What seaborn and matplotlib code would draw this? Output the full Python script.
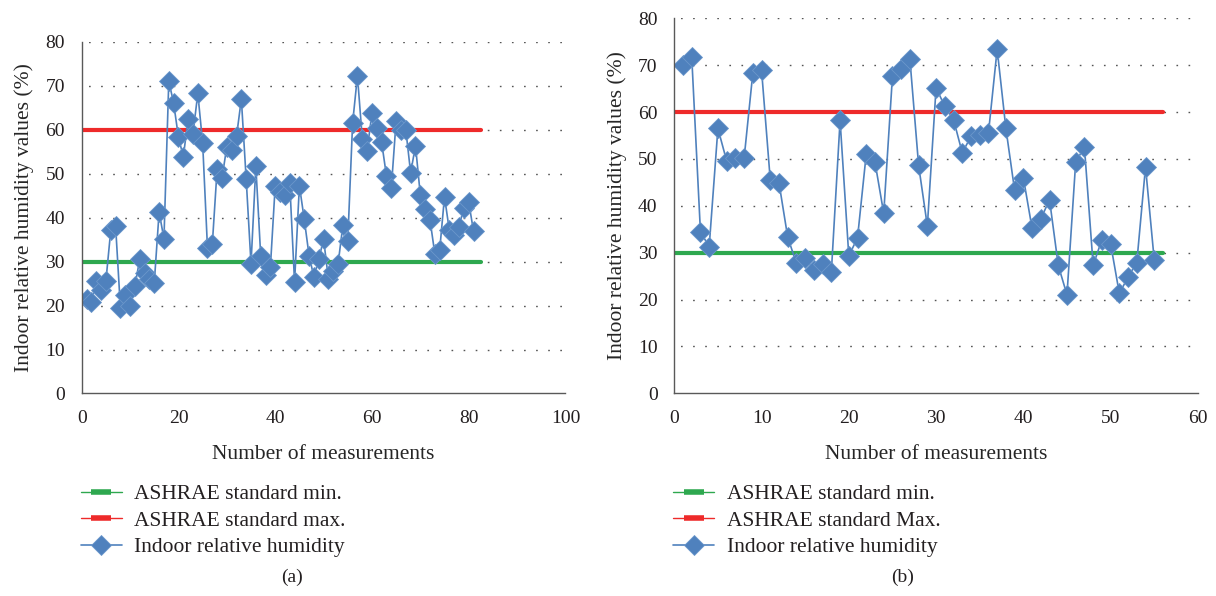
import numpy as np
import pandas as pd
import matplotlib
matplotlib.use("Agg")
import matplotlib.pyplot as plt
from matplotlib.lines import Line2D
import seaborn as sns

# Data (a): 81 measurements
humidity_a = [21.5, 20.8, 25.6, 23.5, 25.6, 37.1, 38.2, 19.5, 22.5, 19.8,
              24.5, 30.6, 27.5, 26.0, 25.2, 41.3, 35.2, 71.1, 66.1, 58.3,
              53.9, 62.4, 59.1, 68.3, 57.0, 33.1, 34.0, 51.2, 49.0, 56.2,
              55.3, 58.5, 67.0, 48.8, 29.5, 51.7, 31.4, 27.0, 28.7, 47.3,
              45.8, 45.2, 48.0, 25.3, 47.3, 39.7, 31.4, 26.5, 30.5, 35.1,
              26.1, 27.8, 29.5, 38.4, 34.8, 61.5, 72.3, 58.0, 55.2, 63.8,
              60.5, 57.2, 49.5, 46.7, 62.1, 60.0, 60.0, 50.2, 56.4, 45.2,
              42.0, 39.5, 31.8, 32.6, 44.8, 37.1, 36.0, 38.0, 42.3, 43.6,
              36.9]

# Data (b): 55 measurements
humidity_b = [70.1, 71.8, 34.4, 31.3, 56.5, 49.6, 50.1, 50.1, 68.3, 69.0,
              45.5, 44.9, 33.3, 27.7, 28.9, 26.3, 27.5, 25.9, 58.2, 29.3,
              33.2, 51.1, 49.3, 38.4, 67.6, 69.1, 71.3, 48.6, 35.7, 65.2,
              61.2, 58.4, 51.3, 54.8, 55.0, 55.5, 73.4, 56.5, 43.3, 46.0,
              35.2, 37.2, 41.3, 27.3, 21.0, 49.4, 52.5, 27.3, 32.8, 31.9,
              21.3, 24.8, 27.9, 48.3, 28.4]

# ASHRAE limits and their x-span on each chart
std_min = 30
std_max = 60
span_a = [0, 82.5]
span_b = [0, 56]

labels_a = ["ASHRAE standard min.", "ASHRAE standard max.", "Indoor relative humidity"]
labels_b = ["ASHRAE standard min.", "ASHRAE standard Max.", "Indoor relative humidity"]

GREEN = "#2EA84F"
RED = "#EE2A2A"
BLUE = "#4F81BD"
AXC = "#595959"

sns.set_style("white")
plt.rcParams["font.family"] = ["Liberation Serif", "DejaVu Serif"]
plt.rcParams["text.color"] = "#231F20"

fig = plt.figure(figsize=(12.16, 5.96), dpi=100)
ax_a = fig.add_axes([0.0672, 0.3398, 0.3978, 0.5898])
ax_b = fig.add_axes([0.5545, 0.3401, 0.4306, 0.6292])


def draw_panel(ax, values, span, xmax, xstep, labels, caption, cap_x):
    df = pd.DataFrame({"n": np.arange(1, len(values) + 1), "rh": values})
    sns.lineplot(x=span, y=[std_min] * 2, ax=ax, color=GREEN, linewidth=3.0)
    sns.lineplot(x=span, y=[std_max] * 2, ax=ax, color=RED, linewidth=3.0)
    sns.lineplot(data=df, x="n", y="rh", ax=ax, color=BLUE, linewidth=1.2,
                 marker="D", markersize=9.8, markerfacecolor=BLUE,
                 markeredgecolor="#6B97CB", markeredgewidth=0.6)

    ax.set_xlim(0, xmax)
    ax.set_ylim(0, 80)
    ax.set_xticks(np.arange(0, xmax + 1, xstep))
    ax.set_yticks(np.arange(0, 81, 10))
    for v in range(10, 81, 10):
        ax.axhline(v, color="#555555", linewidth=1.0, linestyle=(4, (1.2, 7.5)), zorder=0)

    sns.despine(ax=ax)
    for s in ("left", "bottom"):
        ax.spines[s].set_color(AXC)
        ax.spines[s].set_linewidth(1.0)
    ax.tick_params(axis="both", direction="out", length=5, width=1.0, color=AXC,
                   labelsize=14, labelcolor="#231F20", pad=7)
    ax.set_xlabel("Number of measurements", fontsize=15.5, labelpad=13)
    ax.set_ylabel("Indoor relative humidity values (%)", fontsize=15.5, labelpad=8)

    handles = [
        Line2D([], [], color=GREEN, linewidth=1.0, marker="_", markersize=15, markeredgewidth=4),
        Line2D([], [], color=RED, linewidth=1.0, marker="_", markersize=15, markeredgewidth=4),
        Line2D([], [], color=BLUE, linewidth=1.2, marker="D", markersize=9.8,
               markerfacecolor=BLUE, markeredgecolor="#6B97CB", markeredgewidth=0.6),
    ]
    pos = ax.get_position()
    fig.legend(handles, labels, loc="upper left", bbox_to_anchor=(pos.x0 - 0.008, 0.202),
               frameon=False, fontsize=15.5, handlelength=1.9, handletextpad=0.6,
               labelspacing=0.3, numpoints=1, borderaxespad=0)
    fig.text(cap_x, 0.032, caption, fontsize=14, ha="center", va="center")


draw_panel(ax_a, humidity_a, span_a, 100, 20, labels_a, "(a)", 292 / 1216)
draw_panel(ax_b, humidity_b, span_b, 60, 10, labels_b, "(b)", 903 / 1216)

fig.savefig("out.png", dpi=100)
